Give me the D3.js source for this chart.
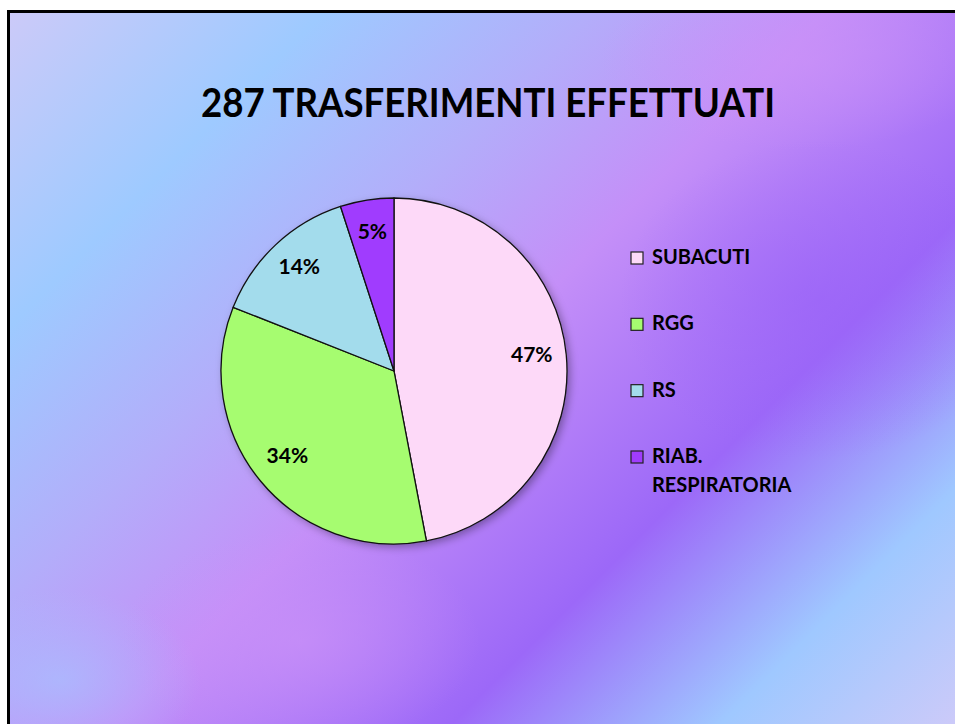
<!DOCTYPE html>
<html>
<head>
<meta charset="utf-8">
<script src="https://cdn.jsdelivr.net/npm/d3@7"></script>
<style>
  html, body { margin: 0; padding: 0; background: #fff; }
  svg { display: block; }
  text { font-family: Lato, "Open Sans", sans-serif; font-weight: 700; fill: #000; }
</style>
</head>
<body>
<svg id="chart"></svg>
<script>
'use strict';

// ── Data ─────────────────────────────────────────────────────
const TITLE      = '287 TRASFERIMENTI EFFETTUATI';
const CATEGORIES = ['SUBACUTI', 'RGG', 'RS', 'RIAB. RESPIRATORIA'];
const LEGEND_LINES = [['SUBACUTI'], ['RGG'], ['RS'], ['RIAB.', 'RESPIRATORIA']];
const PERCENTS   = [47, 34, 14, 5];
const COLORS     = ['#fdd9f8', '#a6fc70', '#a3dcec', '#a03cfe'];

const W = 955, H = 724;
const CX = 394, CY = 371, R = 173;

const svg = d3.select('#chart').attr('width', W).attr('height', H);
const defs = svg.append('defs');

// ── Background ───────────────────────────────────────────────
defs.append('clipPath').attr('id', 'slide')
  .append('rect').attr('x', 7).attr('y', 10).attr('width', W).attr('height', H);

const bg = defs.append('linearGradient').attr('id', 'bg')
  .attr('gradientUnits', 'userSpaceOnUse')
  .attr('x1', 0).attr('y1', 0).attr('x2', 840).attr('y2', 840);
[[0, '#cfcaf8'], [0.2, '#9ecaff'], [0.36, '#b3adfa'], [0.5, '#c48ff8'],
 [0.7, '#9c68f8'], [0.86, '#9fc8ff'], [1, '#cccaf9']]
  .forEach(([o, c]) => bg.append('stop').attr('offset', o).attr('stop-color', c));

const blob = defs.append('radialGradient').attr('id', 'blob');
blob.append('stop').attr('offset', 0).attr('stop-color', '#9a62f8').attr('stop-opacity', 0.55);
blob.append('stop').attr('offset', 1).attr('stop-color', '#9a62f8').attr('stop-opacity', 0);

const blob2 = defs.append('radialGradient').attr('id', 'blob2');
blob2.append('stop').attr('offset', 0).attr('stop-color', '#cc92f8').attr('stop-opacity', 0.6);
blob2.append('stop').attr('offset', 1).attr('stop-color', '#cc92f8').attr('stop-opacity', 0);

const blob3 = defs.append('radialGradient').attr('id', 'blob3');
blob3.append('stop').attr('offset', 0).attr('stop-color', '#a8c0ff').attr('stop-opacity', 0.7);
blob3.append('stop').attr('offset', 1).attr('stop-color', '#a8c0ff').attr('stop-opacity', 0);

const bgG = svg.append('g').attr('clip-path', 'url(#slide)');
bgG.append('rect').attr('x', 7).attr('y', 10).attr('width', W).attr('height', H)
  .attr('fill', 'url(#bg)');
bgG.append('ellipse').attr('cx', 820).attr('cy', 300).attr('rx', 200).attr('ry', 160)
  .attr('fill', 'url(#blob)');
bgG.append('ellipse').attr('cx', 300).attr('cy', 640).attr('rx', 180).attr('ry', 110)
  .attr('fill', 'url(#blob2)');
bgG.append('ellipse').attr('cx', 800).attr('cy', 60).attr('rx', 200).attr('ry', 90)
  .attr('fill', 'url(#blob2)');
bgG.append('ellipse').attr('cx', 60).attr('cy', 680).attr('rx', 140).attr('ry', 90)
  .attr('fill', 'url(#blob3)');

// frame: left + top edges only
svg.append('path').attr('d', `M8.5,${H} V11.5 H${W}`)
  .attr('fill', 'none').attr('stroke', '#000').attr('stroke-width', 3);

// ── Title ────────────────────────────────────────────────────
svg.append('text')
  .attr('x', 488).attr('y', 117)
  .attr('text-anchor', 'middle')
  .attr('font-size', 41)
  .attr('textLength', 574).attr('lengthAdjust', 'spacingAndGlyphs')
  .text(TITLE);

// ── Pie ──────────────────────────────────────────────────────
const shadow = defs.append('filter').attr('id', 'shadow')
  .attr('x', '-20%').attr('y', '-20%').attr('width', '140%').attr('height', '140%');
shadow.append('feDropShadow').attr('dx', 3).attr('dy', 3).attr('stdDeviation', 4)
  .attr('flood-color', '#000').attr('flood-opacity', 0.35);

const color = d3.scaleOrdinal().domain(CATEGORIES).range(COLORS);

const pie = d3.pie().sort(null).value(d => d.value);
const arcs = pie(CATEGORIES.map((c, i) => ({ cat: c, value: PERCENTS[i] })));
const arc = d3.arc().innerRadius(0).outerRadius(R);
const labelArc = d3.arc().innerRadius(R * 0.8).outerRadius(R * 0.8);

const pg = svg.append('g').attr('transform', `translate(${CX},${CY})`);

pg.append('circle').attr('r', R).attr('fill', '#888').attr('filter', 'url(#shadow)');

pg.selectAll('path.slice').data(arcs).join('path')
  .attr('class', 'slice')
  .attr('d', arc)
  .attr('fill', d => color(d.data.cat))
  .attr('stroke', '#111')
  .attr('stroke-width', 1.3)
  .attr('stroke-linejoin', 'round');

pg.selectAll('text.pct').data(arcs).join('text')
  .attr('class', 'pct')
  .attr('transform', d => `translate(${labelArc.centroid(d)})`)
  .attr('text-anchor', 'middle')
  .attr('dy', '0.2em')
  .attr('font-size', 21)
  .text(d => d.data.value + '%');

// ── Legend ───────────────────────────────────────────────────
const leg = svg.append('g').attr('transform', 'translate(631,0)');
const rowY = d3.scalePoint().domain(CATEGORIES).range([264, 463]);

const item = leg.selectAll('g').data(CATEGORIES).join('g')
  .attr('transform', d => `translate(0,${rowY(d)})`);

item.append('rect')
  .attr('x', 0).attr('y', -12).attr('width', 12).attr('height', 12)
  .attr('fill', d => color(d))
  .attr('stroke', '#222').attr('stroke-width', 1.2);

item.append('text')
  .attr('x', 21).attr('font-size', 20)
  .selectAll('tspan').data((d, i) => LEGEND_LINES[i]).join('tspan')
  .attr('x', 21)
  .attr('dy', (d, i) => i === 0 ? 0 : 29)
  .text(d => d);
</script>
</body>
</html>
